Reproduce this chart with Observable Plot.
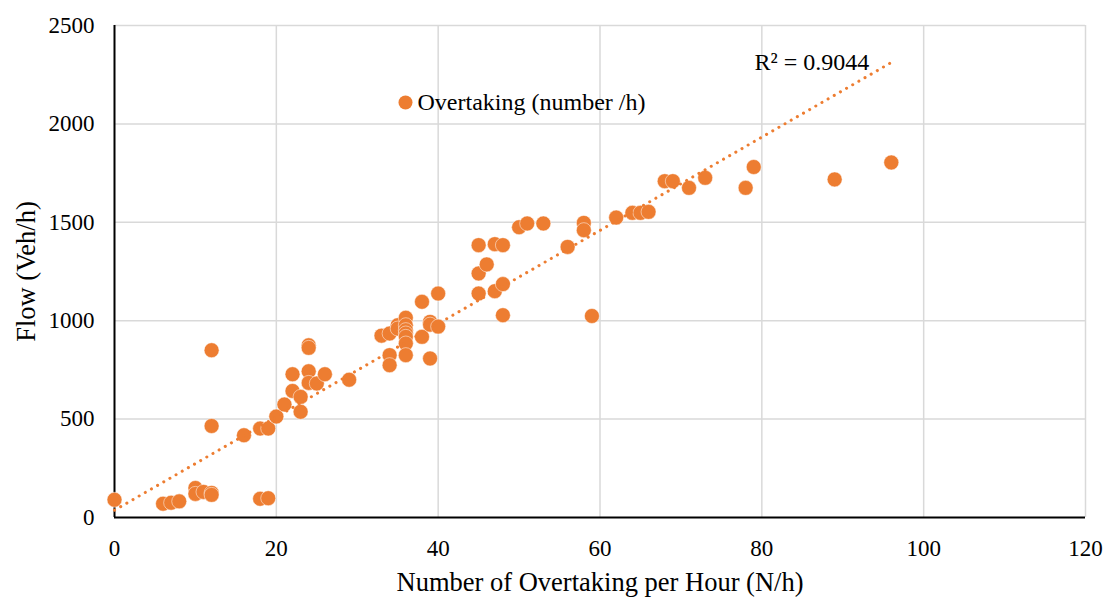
<!DOCTYPE html>
<html>
<head>
<meta charset="utf-8">
<script src="https://cdn.jsdelivr.net/npm/d3@7"></script>
<script src="https://cdn.jsdelivr.net/npm/@observablehq/plot@0.6"></script>
<style>
  html, body { margin: 0; padding: 0; background: #fff; }
  #chart { width: 1106px; height: 597px; }
  svg { font-family: "Liberation Serif", "Times New Roman", serif; }
</style>
</head>
<body>
<div id="chart"></div>
<script>
// Overtaking per hour (N/h)
const overtaking = [0, 6, 7, 8, 10, 10, 11, 12, 12, 12, 12, 16, 18, 19, 18, 19, 20, 21, 22, 22, 23, 23, 24, 24, 24, 24, 25, 26, 29,
  33, 34, 34, 34, 35, 35, 36, 36, 36, 36, 36, 36, 36, 38, 38, 39, 39, 39, 40, 40,
  45, 45, 45, 46, 47, 48, 47, 48, 48, 50, 51, 53, 56, 58, 58, 59, 62, 64, 65, 66, 68, 69, 71, 73, 78, 79, 89, 96];
// Flow (Veh/h)
const flow = [90, 70, 75, 82, 150, 120, 130, 125, 115, 850, 465, 418, 95, 98, 452, 452, 513, 574, 728, 643, 613, 537, 875, 862, 743, 684, 681, 728, 700,
  924, 935, 825, 774, 977, 960, 1015, 977, 952, 935, 918, 884, 825, 1096, 918, 994, 980, 808, 1138, 970,
  1384, 1240, 1138, 1286, 1389, 1384, 1150, 1186, 1028, 1475, 1494, 1494, 1375, 1497, 1460, 1024, 1524, 1548, 1548, 1553, 1709, 1709, 1675, 1726, 1675, 1781, 1718, 1804];

// Linear trendline as drawn in the reference (end points)
const trendX = [0, 96];
const trendY = [37, 2312];

const xTicks = [0, 20, 40, 60, 80, 100, 120];
const yTicks = [0, 500, 1000, 1500, 2000, 2500];
const seriesName = "Overtaking (number /h)";
const r2Label = "R² = 0.9044";
const xTitle = "Number of Overtaking per Hour (N/h)";
const yTitle = "Flow (Veh/h)";

const data = overtaking.map((x, i) => ({x, y: flow[i]}));
const trend = trendX.map((x, i) => ({x, y: trendY[i]}));
const orange = "#ED7D31";

const chart = Plot.plot({
  width: 1106,
  height: 597,
  marginLeft: 114,
  marginRight: 21,
  marginTop: 25,
  marginBottom: 80,
  style: {fontFamily: "'Liberation Serif', 'Times New Roman', serif", fontSize: "23px", color: "#000", background: "#fff", overflow: "visible"},
  x: {domain: [0, 120], ticks: xTicks},
  y: {domain: [0, 2500], ticks: yTicks},
  marks: [
    Plot.gridX(xTicks.filter(d => d > 0), {stroke: "#d9d9d9", strokeOpacity: 1, strokeWidth: 1.5}),
    Plot.gridY(yTicks.filter(d => d > 0), {stroke: "#d9d9d9", strokeOpacity: 1, strokeWidth: 1.5}),
    Plot.axisX(xTicks, {tickSize: 0, tickPadding: 22, fontSize: 23, tickFormat: d => String(d), label: null}),
    Plot.axisY(yTicks, {tickSize: 0, tickPadding: 20, fontSize: 23, tickFormat: d => String(d), label: null}),
    Plot.text([xTitle], {frameAnchor: "bottom", dy: 73, text: d => d, textAnchor: "middle", lineAnchor: "bottom", fontSize: 26.5, fill: "#000"}),
    Plot.text([yTitle], {frameAnchor: "left", dx: -80, rotate: -90, text: d => d, textAnchor: "middle", lineAnchor: "bottom", fontSize: 26.5, fill: "#000"}),
    Plot.ruleX([0], {stroke: "#000", strokeWidth: 2}),
    Plot.ruleY([0], {stroke: "#000", strokeWidth: 2}),
    Plot.dot(data, {x: "x", y: "y", r: 7.5, fill: orange, stroke: "#fff", strokeWidth: 0.5}),
    Plot.line(trend, {x: "x", y: "y", stroke: orange, strokeWidth: 3, strokeDasharray: "0.1 7", strokeLinecap: "round"}),
    Plot.dot([seriesName], {frameAnchor: "top-left", dx: 291, dy: 77, r: 7, fill: orange}),
    Plot.text([seriesName], {frameAnchor: "top-left", dx: 303, dy: 77, text: d => d, textAnchor: "start", lineAnchor: "middle", fontSize: 24, fill: "#000"}),
    Plot.text([r2Label], {frameAnchor: "top-left", dx: 640, dy: 37, text: d => d, textAnchor: "start", lineAnchor: "middle", fontSize: 24, fill: "#000"})
  ]
});
document.getElementById("chart").appendChild(chart);
</script>
</body>
</html>
